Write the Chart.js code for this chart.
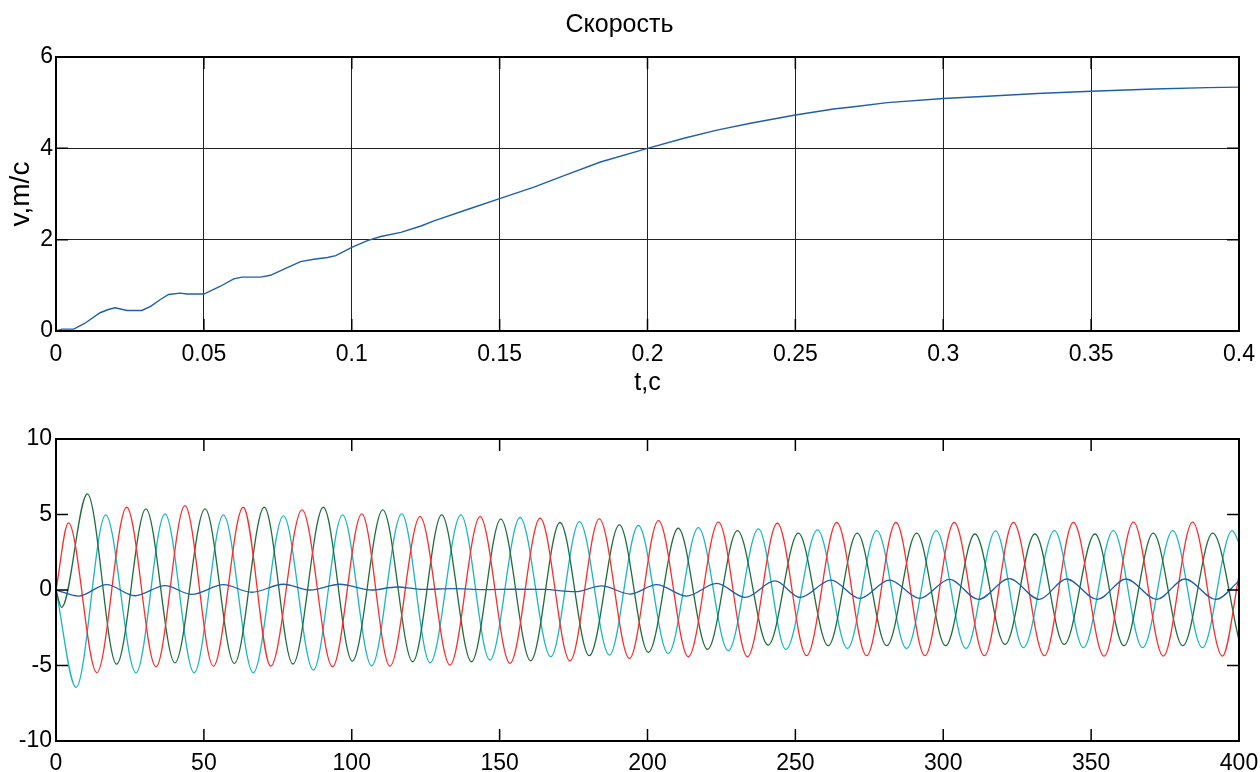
<!DOCTYPE html>
<html>
<head>
<meta charset="utf-8">
<script src="https://cdn.jsdelivr.net/npm/chart.js@4"></script>
<style>
  body { margin: 0; background: #fff; }
  .box { position: absolute; left: 0; width: 1260px; }
  #speed-box { top: 0; height: 400px; }
  #phase-box { top: 400px; height: 372px; }
</style>
</head>
<body>
<div class="box" id="speed-box"><canvas id="speed-chart"></canvas></div>
<div class="box" id="phase-box"><canvas id="phase-chart"></canvas></div>
<script>
// Data - Скорость
const speedT = [0, 0.002, 0.006, 0.0098, 0.0149, 0.0177, 0.02, 0.024, 0.029, 0.032, 0.0353, 0.0381, 0.042, 0.0443, 0.05,
  0.0556, 0.0601, 0.0629, 0.0692, 0.0725, 0.0782, 0.0827, 0.0872, 0.0918, 0.0946, 0.1, 0.1053, 0.1098, 0.1166, 0.1234,
  0.1278, 0.1391, 0.15, 0.1616, 0.1729, 0.1841, 0.2, 0.2123, 0.2235, 0.2348, 0.25, 0.2629, 0.2698, 0.2811, 0.3, 0.3149,
  0.3318, 0.35, 0.3713, 0.3893, 0.4];
const speedV = [0, 0.04, 0.04, 0.17, 0.4, 0.47, 0.51, 0.45, 0.45, 0.54, 0.69, 0.8, 0.83, 0.81, 0.81,
  0.98, 1.14, 1.18, 1.18, 1.22, 1.39, 1.52, 1.57, 1.61, 1.65, 1.83, 1.98, 2.07, 2.16, 2.3,
  2.41, 2.66, 2.9, 3.15, 3.43, 3.7, 4.0, 4.22, 4.4, 4.55, 4.73, 4.86, 4.91, 5.0, 5.09, 5.14,
  5.2, 5.25, 5.3, 5.33, 5.34];
const speedXTicks = [0, 0.05, 0.1, 0.15, 0.2, 0.25, 0.3, 0.35, 0.4];
const speedYTicks = [0, 2, 4, 6];

// Data - phases (peaks and troughs)
const redX = [0, 4.2, 13.8, 23.9, 33.8, 43.6, 53.2, 63.3, 72.6, 83.2, 93.5, 103.4, 112.9, 123.1, 133.2, 143.4, 153.5,
  163.7, 173.8, 183.7, 193.9, 203.7, 213.8, 224.0, 233.8, 243.9, 253.8, 264.0, 274.1, 284.0, 293.8, 303.7, 313.9,
  323.7, 334.2, 344.0, 354.4, 364.3, 374.4, 384.3, 394.4, 400];
const redY = [0, 4.45, -5.47, 5.48, -5.08, 5.59, -5.04, 5.48, -5.04, 5.31, -5.08, 5.04, -5.04, 4.86, -4.97, 4.86, -4.86,
  4.75, -4.69, 4.71, -4.53, 4.6, -4.42, 4.49, -4.42, 4.42, -4.35, 4.47, -4.35, 4.47, -4.35, 4.47, -4.35,
  4.47, -4.35, 4.47, -4.38, 4.49, -4.38, 4.49, -4.38, 0.93];
const greenX = [0, 1.9, 10.6, 20.5, 30.4, 40.2, 50.4, 60.3, 70.4, 80.1, 90.4, 100.2, 110.5, 120.6, 130.4, 140.5, 150.4,
  160.5, 170.4, 180.3, 190.5, 200.3, 210.4, 220.3, 230.4, 240.8, 251.0, 261.1, 270.9, 280.9, 291.0, 300.8, 310.7,
  320.9, 331.0, 340.9, 351.3, 361.1, 371.0, 381.0, 391.1, 400];
const greenY = [0, -1.15, 6.37, -4.91, 5.37, -4.82, 5.37, -4.86, 5.48, -4.9, 5.48, -4.71, 5.31, -4.75, 4.97, -4.75, 4.69,
  -4.69, 4.47, -4.35, 4.31, -4.13, 4.09, -3.93, 3.93, -3.65, 3.76, -3.69, 3.76, -3.69, 3.76, -3.69, 3.71,
  -3.6, 3.71, -3.6, 3.71, -3.69, 3.76, -3.69, 3.76, -3.32];
const cyanX = [0, 6.8, 16.8, 27.05, 36.85, 46.7, 56.6, 66.7, 76.9, 87.0, 96.9, 106.7, 116.9, 126.5, 136.9, 146.7, 156.9,
  167.3, 177.0, 187.1, 196.9, 207.0, 217.2, 227.3, 237.5, 246.8, 257.5, 267.6, 277.5, 287.6, 297.6, 307.7, 317.7,
  327.1, 337.6, 347.4, 357.5, 367.4, 377.6, 387.6, 397.7, 400];
const cyanY = [0, -6.45, 4.97, -5.48, 5.04, -5.48, 4.97, -5.48, 4.91, -5.3, 4.97, -5.02, 5.04, -4.82, 4.97, -4.64, 4.8,
  -4.42, 4.53, -4.31, 4.27, -4.2, 4.13, -4.02, 4.05, -3.93, 3.98, -3.87, 3.93, -3.87, 3.93, -3.87, 3.91,
  -3.82, 3.93, -3.82, 3.93, -3.82, 3.93, -3.82, 3.93, 3.14];
const blueX = [0, 7.6, 17.1, 26.7, 36.9, 45.9, 56.6, 66.2, 76.9, 85.9, 96.0, 106.7, 115.2, 124.2, 134.3, 145, 155, 165,
  175.5, 184.5, 194.1, 203.1, 213.2, 223.4, 233.0, 243.1, 251.6, 262.0, 271.8, 281.8, 292.1, 302.1, 311.9, 322.3,
  332.5, 341.7, 352.1, 361.8, 372.2, 381.7, 392.2, 400];
const blueY = [0, -0.4, 0.35, -0.38, 0.29, -0.29, 0.35, -0.15, 0.38, 0.0, 0.38, 0.0, 0.2, 0.04, 0.09, 0.03, 0.05, 0.04,
  -0.11, 0.27, -0.27, 0.35, -0.4, 0.44, -0.49, 0.6, -0.49, 0.66, -0.55, 0.66, -0.55, 0.71, -0.62, 0.75,
  -0.62, 0.73, -0.62, 0.73, -0.62, 0.73, -0.62, 0.6];
const phaseXTicks = [0, 50, 100, 150, 200, 250, 300, 350, 400];
const phaseYTicks = [-10, -5, 0, 5, 10];

const fontFamily = "'Liberation Sans', Arial, sans-serif";

const toPoints = (xs, ys) => xs.map((x, i) => ({ x: x, y: ys[i] }));
const setTicks = (list) => (axis) => {
  axis.ticks = list.map((v) => ({ value: v }));
};
// Cố định kích thước trục, bỏ phần tràn của nhãn
const fixX = (h) => (s) => {
  s.height = h;
  s.paddingLeft = 0;
  s.paddingRight = 0;
};
const fixY = (w) => (s) => {
  s.width = w;
  s.paddingTop = 0;
  s.paddingBottom = 0;
};

// Khung + vạch chia hướng vào trong
const frameTicks = {
  id: "frameTicks",
  afterDraw: (chart) => {
    const { ctx, chartArea: a, scales } = chart;
    ctx.save();
    ctx.strokeStyle = "#000";
    ctx.lineWidth = 1.5;
    ctx.beginPath();
    scales.x.ticks.forEach((t) => {
      const px = scales.x.getPixelForValue(t.value);
      ctx.moveTo(px, a.bottom);
      ctx.lineTo(px, a.bottom - 12);
      ctx.moveTo(px, a.top);
      ctx.lineTo(px, a.top + 12);
    });
    scales.y.ticks.forEach((t) => {
      const py = scales.y.getPixelForValue(t.value);
      ctx.moveTo(a.left, py);
      ctx.lineTo(a.left + 12, py);
      ctx.moveTo(a.right, py);
      ctx.lineTo(a.right - 12, py);
    });
    ctx.stroke();
    ctx.lineWidth = 2;
    ctx.strokeRect(a.left, a.top, a.right - a.left, a.bottom - a.top);
    ctx.restore();
  },
};

const tickFont = { family: fontFamily, size: 23 };

// Speed Chart
const speedChart = document.querySelector("#speed-chart");
if (speedChart) {
  new Chart(speedChart, {
    type: "line",
    data: {
      datasets: [
        {
          data: toPoints(speedT, speedV),
          borderColor: "#1f5fa8",
          borderWidth: 1.4,
          pointRadius: 0,
          tension: 0,
        },
      ],
    },
    options: {
      animation: false,
      responsive: true,
      maintainAspectRatio: false,
      layout: { padding: { right: 21 } },
      plugins: {
        legend: { display: false },
        tooltip: { enabled: false },
        title: {
          display: true,
          text: "Скорость",
          color: "#000",
          font: { family: fontFamily, size: 25, weight: "normal" },
          padding: { top: 10, bottom: 17 },
        },
      },
      scales: {
        x: {
          type: "linear",
          min: 0,
          max: 0.4,
          afterBuildTicks: setTicks(speedXTicks),
          afterFit: fixX(69),
          grid: { color: "#222", lineWidth: 1, drawTicks: false },
          border: { display: false },
          ticks: {
            padding: 10,
            color: "#000",
            font: tickFont,
            callback: (v) => String(v),
            maxRotation: 0,
          },
          title: {
            display: true,
            text: "t,c",
            color: "#000",
            font: { family: fontFamily, size: 25 },
            padding: { top: 0, bottom: 2 },
          },
        },
        y: {
          type: "linear",
          min: 0,
          max: 6,
          afterBuildTicks: setTicks(speedYTicks),
          afterFit: fixY(56),
          grid: { color: "#222", lineWidth: 1, drawTicks: false },
          border: { display: false },
          ticks: {
            padding: 3,
            color: "#000",
            font: tickFont,
            callback: (v) => String(v),
          },
          title: {
            display: true,
            text: "v,m/c",
            color: "#000",
            font: { family: fontFamily, size: 28 },
            padding: { top: 4, bottom: 0 },
          },
        },
      },
    },
    plugins: [frameTicks],
  });
}
// End Speed Chart

// Phase Chart
const phaseChart = document.querySelector("#phase-chart");
if (phaseChart) {
  const lineStyle = { borderWidth: 1.3, pointRadius: 0, cubicInterpolationMode: "monotone" };
  new Chart(phaseChart, {
    type: "line",
    data: {
      datasets: [
        { data: toPoints(blueX, blueY), borderColor: "#1f5fa8", ...lineStyle },
        { data: toPoints(redX, redY), borderColor: "#ff2b2b", ...lineStyle },
        { data: toPoints(greenX, greenY), borderColor: "#1e6e3c", ...lineStyle },
        { data: toPoints(cyanX, cyanY), borderColor: "#1ab6c6", ...lineStyle },
      ],
    },
    options: {
      animation: false,
      responsive: true,
      maintainAspectRatio: false,
      layout: { padding: { top: 39, right: 21 } },
      plugins: {
        legend: { display: false },
        tooltip: { enabled: false },
      },
      scales: {
        x: {
          type: "linear",
          min: 0,
          max: 400,
          afterBuildTicks: setTicks(phaseXTicks),
          afterFit: fixX(31),
          grid: { display: false, drawTicks: false },
          border: { display: false },
          ticks: {
            padding: 9,
            color: "#000",
            font: tickFont,
            callback: (v) => String(v),
            maxRotation: 0,
          },
        },
        y: {
          type: "linear",
          min: -10,
          max: 10,
          afterBuildTicks: setTicks(phaseYTicks),
          afterFit: fixY(56),
          grid: { display: false, drawTicks: false },
          border: { display: false },
          ticks: {
            padding: 4,
            color: "#000",
            font: tickFont,
            callback: (v) => String(v),
          },
        },
      },
    },
    plugins: [frameTicks],
  });
}
// End Phase Chart
</script>
</body>
</html>
